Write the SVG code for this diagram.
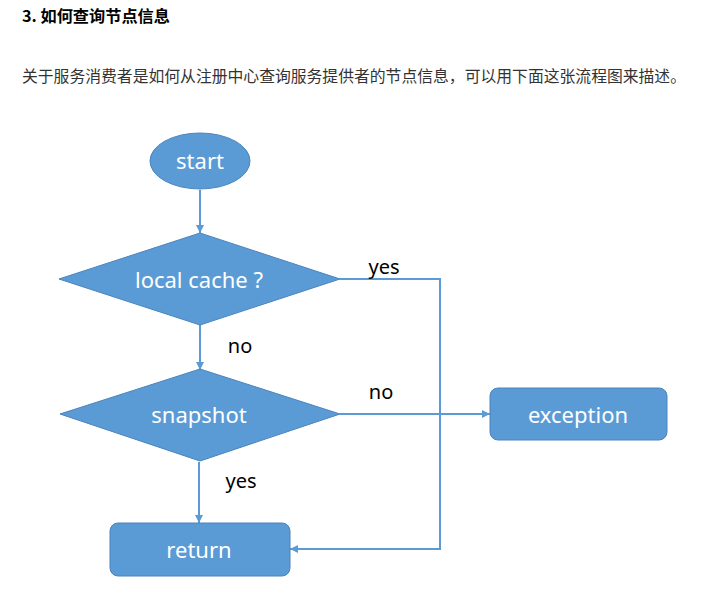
<svg xmlns="http://www.w3.org/2000/svg" width="701" height="601" viewBox="0 0 701 601">
<defs>
<style>
.shape{fill:#5b9bd5;stroke:#4a84bd;stroke-width:1}
.nt{fill:#fff;font-family:"Noto Sans","Noto Sans CJK SC",sans-serif;font-size:22px;text-anchor:middle;dominant-baseline:central}
.lb{fill:#000;font-family:"Noto Sans","Noto Sans CJK SC",sans-serif;font-size:20px;text-anchor:middle;dominant-baseline:central}
.cn{fill:none;stroke:#5b9bd5;stroke-width:2}
</style>
<marker id="ah" viewBox="0 0 10 10" refX="10" refY="5" markerWidth="4" markerHeight="4" orient="auto" markerUnits="strokeWidth">
<path d="M0,0 L10,5 L0,10 z" fill="#5b9bd5"/>
</marker>
</defs>
<rect width="701" height="601" fill="#fff"/>
<text x="22" y="22" font-family="'Noto Sans CJK SC',sans-serif" font-size="16" font-weight="bold" fill="#000" textLength="148" lengthAdjust="spacingAndGlyphs">3. 如何查询节点信息</text>
<text x="22" y="82" font-family="'Noto Sans CJK SC',sans-serif" font-size="16" fill="#333" textLength="664" lengthAdjust="spacingAndGlyphs">关于服务消费者是如何从注册中心查询服务提供者的节点信息，可以用下面这张流程图来描述。</text>
<g id="connectors">
<line class="cn" x1="200" y1="190" x2="200" y2="233" marker-end="url(#ah)"/>
<line class="cn" x1="200" y1="325" x2="200" y2="370" marker-end="url(#ah)"/>
<line class="cn" x1="199" y1="462" x2="199" y2="523" marker-end="url(#ah)"/>
<line class="cn" x1="340" y1="414" x2="490" y2="414" marker-end="url(#ah)"/>
<polyline class="cn" points="340,279 440,279 440,549 290,549" marker-end="url(#ah)"/>
<text class="lb" x="384" y="266">yes</text>
<text class="lb" x="240" y="345">no</text>
<text class="lb" x="381" y="391">no</text>
<text class="lb" x="241" y="480">yes</text>
</g>
<g id="start">
<ellipse class="shape" cx="200" cy="161" rx="50" ry="28"/>
<text class="nt" x="200" y="160">start</text>
</g>
<g id="local-cache">
<polygon class="shape" points="200,233 340,279 200,325 59,279"/>
<text class="nt" x="199" y="279">local cache ?</text>
</g>
<g id="snapshot">
<polygon class="shape" points="200,369 340,414 200,461 60,414"/>
<text class="nt" x="199" y="414">snapshot</text>
</g>
<g id="exception">
<rect class="shape" x="490" y="388" width="177" height="52" rx="8"/>
<text class="nt" x="578" y="414">exception</text>
</g>
<g id="return">
<rect class="shape" x="110" y="523" width="180" height="53" rx="8"/>
<text class="nt" x="199" y="549">return</text>
</g>
</svg>
